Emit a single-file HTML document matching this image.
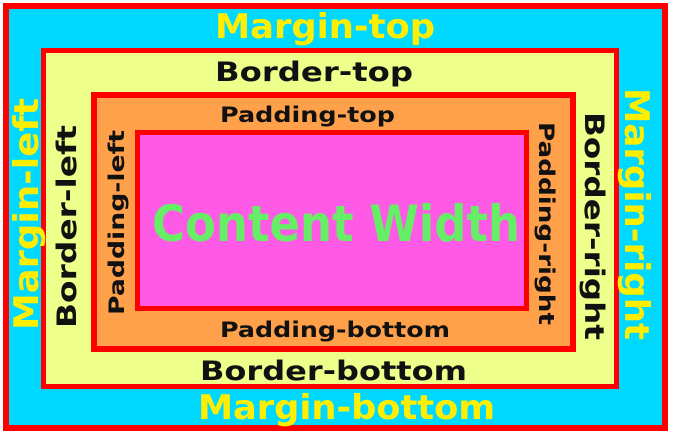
<!DOCTYPE html>
<html><head><meta charset="utf-8"><style>
html,body{margin:0;padding:0;background:#fff;}
svg{display:block;}
text{font-family:"DejaVu Sans","Liberation Sans",sans-serif;font-weight:bold;}
</style></head><body>
<svg width="673" height="436" viewBox="0 0 673 436">
<rect x="6" y="6" width="659" height="422" fill="#00d8ff" stroke="#ff0000" stroke-width="6"/>
<rect x="43.5" y="50.5" width="573" height="336" fill="#eeff8c" stroke="#ff0000" stroke-width="5"/>
<rect x="94" y="95" width="479" height="254" fill="#ffa04a" stroke="#ff0000" stroke-width="6"/>
<rect x="137.5" y="132.5" width="389" height="176" fill="#ff5ae6" stroke="#ff0000" stroke-width="5"/>

<text x="215" y="38" font-size="34" fill="#ffee00" textLength="220" lengthAdjust="spacingAndGlyphs">Margin-top</text>
<text x="215" y="81" font-size="27" fill="#111" textLength="198" lengthAdjust="spacingAndGlyphs">Border-top</text>
<text x="220" y="122" font-size="21" fill="#111" textLength="175" lengthAdjust="spacingAndGlyphs">Padding-top</text>
<text x="152" y="241" font-size="50" fill="#66ee66" textLength="368" lengthAdjust="spacingAndGlyphs">Content Width</text>
<text x="220" y="337" font-size="21" fill="#111" textLength="230" lengthAdjust="spacingAndGlyphs">Padding-bottom</text>
<text x="200" y="380" font-size="27" fill="#111" textLength="267" lengthAdjust="spacingAndGlyphs">Border-bottom</text>
<text x="198" y="419" font-size="34" fill="#ffee00" textLength="297" lengthAdjust="spacingAndGlyphs">Margin-bottom</text>

<text transform="translate(38,330) rotate(-90)" font-size="34" fill="#ffee00" textLength="232" lengthAdjust="spacingAndGlyphs">Margin-left</text>
<text transform="translate(76,328) rotate(-90)" font-size="27" fill="#111" textLength="203" lengthAdjust="spacingAndGlyphs">Border-left</text>
<text transform="translate(124,315) rotate(-90)" font-size="21" fill="#111" textLength="185" lengthAdjust="spacingAndGlyphs">Padding-left</text>
<text transform="translate(539,122) rotate(90)" font-size="21" fill="#111" textLength="203" lengthAdjust="spacingAndGlyphs">Padding-right</text>
<text transform="translate(585,112) rotate(90)" font-size="27" fill="#111" textLength="228" lengthAdjust="spacingAndGlyphs">Border-right</text>
<text transform="translate(625,88) rotate(90)" font-size="34" fill="#ffee00" textLength="252" lengthAdjust="spacingAndGlyphs">Margin-right</text>
</svg>
</body></html>
